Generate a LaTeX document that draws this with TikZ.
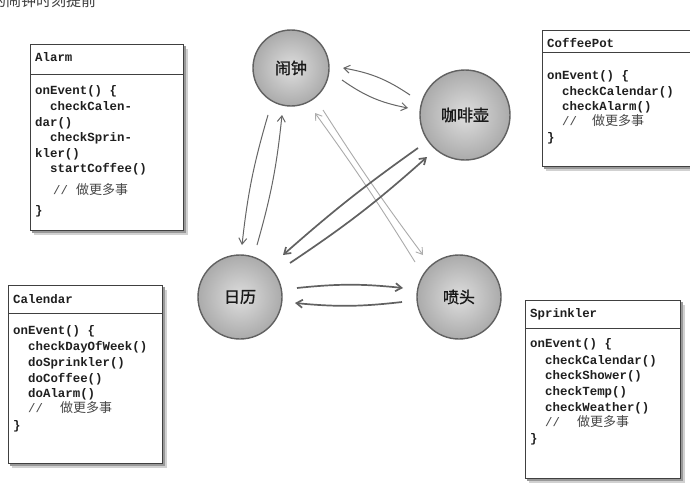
\documentclass[tikz,border=0pt]{standalone}
\usepackage{fontspec}
\setmonofont{Liberation Mono}
\newfontfamily\cjk{Noto Sans CJK SC}
\newfontfamily\cjkb[FakeBold=1.2]{Noto Sans CJK SC}
\usetikzlibrary{arrows.meta,calc}
\newcommand\classbox[5]{%
  \fill[black!18] (#1+4,#2+5) rectangle (#3+5,#4+5);
  \fill[black!40] (#1+2,#2+2) rectangle (#3+2.5,#4+2.5);
  \draw[boxline,fill=white] (#1,#2) rectangle (#3,#4);
  \draw[boxline] (#1,#5) -- (#3,#5);
}
\newcommand\cmtext[1]{\ttfamily //\hspace{#1}{\cjk\fontsize{13}{13}\selectfont 做更多事}}
\begin{document}
\begin{tikzpicture}[x=1pt,y=-1pt,
  boxline/.style={draw=black!75,line width=0.9pt},
  code/.style={anchor=base west,inner sep=0pt,text=black!88,
    font=\ttfamily\bfseries\fontsize{12.4}{15}\selectfont},
  cmt/.style={anchor=base west,inner sep=0pt,text=black!72,
    font=\fontsize{12.4}{15}\selectfont},
  circ/.style={circle,draw=black!62,line width=1.4pt,inner color=black!13,
    outer color=black!33,font=\cjkb\fontsize{16}{16}\selectfont,text=black!90},
  arr/.style={-{Straight Barb[length=6pt,width=8pt]},line width=1pt,draw=black!60},
  arrl/.style={arr,draw=black!33,line width=0.9pt},
  arrd/.style={arr,draw=black!62,line width=1.7pt}]
\useasboundingbox (0,0) rectangle (690,487);
\fill[white] (0,0) rectangle (690,487);

% fragment of text at top
\node[anchor=base west,inner sep=0pt,text=black!75,font=\cjk\fontsize{15}{15}\selectfont] (frag) at (-9,7) {的闹钟时刻提前};

% ---- Alarm box
\classbox{30}{44}{183}{230}{74}
\node[code] (alt) at (35,61) {Alarm};
\node[code] (al1) at (35,94) {onEvent() \{};
\node[code] (al2) at (50,110) {checkCalen-};
\node[code] (al3) at (35,126) {dar()};
\node[code] (al4) at (50,141) {checkSprin-};
\node[code] (al5) at (35,157) {kler()};
\node[code] (al6) at (50,172) {startCoffee()};
\node[cmt] (al7) at (53,194) {\cmtext{8pt}};
\node[code] (al8) at (35,214) {\}};

% ---- CoffeePot box
\classbox{542}{30}{702}{166}{52}
\node[code] (cpt) at (547,48) {CoffeePot};
\node[code] (cp1) at (547,79) {onEvent() \{};
\node[code] (cp2) at (562,95) {checkCalendar()};
\node[code] (cp3) at (562,110) {checkAlarm()};
\node[cmt] (cp4) at (562,125) {\cmtext{15pt}};
\node[code] (cp5) at (547,141) {\}};

% ---- Calendar box
\classbox{8}{285}{162}{463}{313}
\node[code] (cat) at (13,303) {Calendar};
\node[code] (ca1) at (13,334) {onEvent() \{};
\node[code] (ca2) at (28,350) {checkDayOfWeek()};
\node[code] (ca3) at (28,366) {doSprinkler()};
\node[code] (ca4) at (28,382) {doCoffee()};
\node[code] (ca5) at (28,397) {doAlarm()};
\node[cmt] (ca6) at (28,412) {\cmtext{17pt}};
\node[code] (ca7) at (13,429) {\}};

% ---- Sprinkler box
\classbox{525}{300}{680}{478}{328}
\node[code] (spt) at (530,317) {Sprinkler};
\node[code] (sp1) at (530,347) {onEvent() \{};
\node[code] (sp2) at (545,364) {checkCalendar()};
\node[code] (sp3) at (545,379) {checkShower()};
\node[code] (sp4) at (545,395) {checkTemp()};
\node[code] (sp5) at (545,411) {checkWeather()};
\node[cmt] (sp6) at (545,426) {\cmtext{17pt}};
\node[code] (sp7) at (530,442) {\}};

% ---- circles
\node[circ,minimum size=76pt] (alarm) at (291,68) {闹钟};
\node[circ,minimum size=90pt] (coffee) at (465,115) {咖啡壶};
\node[circ,minimum size=84pt] (cal) at (240,297) {日历};
\node[circ,minimum size=84pt] (spr) at (459,297) {喷头};

% ---- connector end points
\coordinate (a1s) at (410,95);  \coordinate (a1e) at (343,68);
\coordinate (a2s) at (342,80);  \coordinate (a2e) at (408,108);
\coordinate (a3s) at (268,115); \coordinate (a3e) at (242,245);
\coordinate (a4s) at (257,245); \coordinate (a4e) at (282,115);
\coordinate (a5s) at (415,262); \coordinate (a5e) at (315,113);
\coordinate (a6s) at (323,110); \coordinate (a6e) at (423,255);
\coordinate (a7s) at (418,148); \coordinate (a7e) at (283,255);
\coordinate (a8s) at (290,263); \coordinate (a8e) at (427,157);
\coordinate (a9s) at (297,288); \coordinate (a9e) at (403,288);
\coordinate (a10s) at (402,302); \coordinate (a10e) at (295,303);

\draw[arr] (a1s) to[bend right=12] (a1e);
\draw[arr] (a2s) to[bend right=12] (a2e);
\draw[arr] (a3s) to[bend right=5] (a3e);
\draw[arr] (a4s) to[bend right=5] (a4e);
\draw[arrl] (a5s) to[bend right=2] (a5e);
\draw[arrl] (a6s) to[bend right=2] (a6e);
\draw[arrd] (a7s) to[bend right=3] (a7e);
\draw[arrd] (a8s) to[bend right=4] (a8e);
\draw[arrd] (a9s) to[bend left=6] (a9e);
\draw[arrd] (a10s) to[bend left=6] (a10e);
\end{tikzpicture}
\end{document}
